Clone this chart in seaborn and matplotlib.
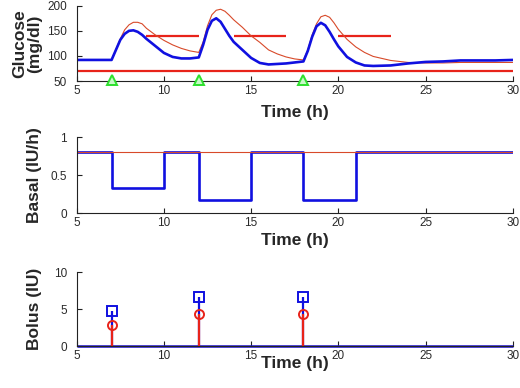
import numpy as np
import matplotlib
matplotlib.use("Agg")
import matplotlib.pyplot as plt
import seaborn as sns

# ---- data ----
t_glu = [5, 7, 7.25, 7.5, 7.75, 8, 8.25, 8.5, 8.75, 9, 9.5, 10, 10.5, 11, 11.5,
         12, 12.25, 12.5, 12.75, 13, 13.25, 13.5, 13.75, 14, 14.5, 15, 15.5, 16,
         16.5, 17, 17.5, 18, 18.25, 18.5, 18.75, 19, 19.25, 19.5, 19.75, 20, 20.5,
         21, 21.5, 22, 23, 24, 25, 26, 27, 28, 29, 30]
glu_blue = [92, 92, 112, 132, 144, 150, 151, 148, 142, 134, 120, 106, 98, 95, 95,
            97, 122, 152, 170, 175, 168, 154, 140, 128, 112, 96, 86, 83,
            84, 85, 87, 89, 110, 138, 159, 166, 161, 148, 133, 119, 98,
            87, 81, 80, 81, 85, 88, 89, 91, 91, 91, 92]
glu_red = [92, 92, 113, 134, 152, 162, 167, 167, 164, 155, 142, 131, 122, 115, 110,
           107, 128, 160, 182, 191, 193, 189, 181, 172, 157, 140, 127, 112,
           104, 98, 94, 92, 112, 142, 164, 178, 181, 177, 166, 153, 133,
           118, 107, 99, 91, 87, 86, 86, 87, 87, 87, 87]
target_start = [9, 14, 20]
target_end = [12, 17, 23]
target_level = 140
hypo_level = 70
meal_times = [7, 12, 18]
meal_marker_level = 52

basal_t = [5, 7, 10, 12, 15, 18, 21, 30]
basal_blue = [0.8, 0.33, 0.8, 0.17, 0.8, 0.17, 0.8, 0.8]
basal_red = [0.8, 0.8, 0.8, 0.8, 0.8, 0.8, 0.8, 0.8]

bolus_t = [7, 12, 18]
bolus_blue = [4.7, 6.7, 6.7]
bolus_red = [2.9, 4.4, 4.4]

BLUE = "#1010e0"
RED = "#e8231a"
RED_THIN = "#d84a2a"
GREEN = "#2ee02e"

sns.set_style("ticks")
plt.rcParams["font.family"] = ["Liberation Sans", "DejaVu Sans"]

fig = plt.figure(figsize=(5.2, 3.88), dpi=100)
left, width = 0.1475, 0.8385
ax1 = fig.add_axes([left, 0.7912, width, 0.194])
ax2 = fig.add_axes([left, 0.4503, width, 0.1959])
ax3 = fig.add_axes([left, 0.1082, width, 0.19])

# glucose
ax1.hlines(hypo_level, 5, 30, color=RED, lw=1.6)
ax1.hlines([target_level] * 3, target_start, target_end, color=RED, lw=1.6)
sns.lineplot(x=t_glu, y=glu_red, ax=ax1, color=RED_THIN, lw=0.8, sort=False)
sns.lineplot(x=t_glu, y=glu_blue, ax=ax1, color=BLUE, lw=1.9, sort=False)
ax1.plot(meal_times, [meal_marker_level] * 3, ls="none", marker="^", ms=7,
         mfc="#c8f8c8", mec=GREEN, mew=1.4, clip_on=False, zorder=5)
ax1.set_ylim(50, 200)
ax1.set_yticks([50, 100, 150, 200])
ax1.set_ylabel("Glucose\n(mg/dl)", linespacing=1.0)

# basal
sns.lineplot(x=basal_t, y=basal_blue, ax=ax2, color=BLUE, lw=1.9,
             drawstyle="steps-post", sort=False)
sns.lineplot(x=basal_t, y=basal_red, ax=ax2, color=RED_THIN, lw=0.8, sort=False)
ax2.set_ylim(0, 1)
ax2.set_yticks([0, 0.5, 1])
ax2.set_yticklabels(["0", "0.5", "1"])
ax2.set_ylabel("Basal (IU/h)")

# bolus
ax3.hlines(0, 5, 30, color=BLUE, lw=1.8, clip_on=False)
ax3.hlines(0, 5, 30, color=RED_THIN, lw=0.8, clip_on=False)
ax3.vlines(bolus_t, 0, bolus_blue, color=BLUE, lw=1.6)
ax3.vlines(bolus_t, 0, bolus_red, color=RED, lw=1.6)
ax3.plot(bolus_t, bolus_blue, ls="none", marker="s", ms=7, mfc="none",
         mec=BLUE, mew=1.4)
ax3.plot(bolus_t, bolus_red, ls="none", marker="o", ms=6.5, mfc="none",
         mec=RED, mew=1.4)
ax3.set_ylim(0, 10)
ax3.set_yticks([0, 5, 10])
ax3.set_ylabel("Bolus (IU)")

xlab_y = [-0.319, -0.259, -0.136]
for ax, ly in zip([ax1, ax2, ax3], xlab_y):
    ax.set_xlim(5, 30)
    ax.set_xticks([5, 10, 15, 20, 25, 30])
    sns.despine(ax=ax)
    for s in ["left", "bottom"]:
        ax.spines[s].set_linewidth(0.8)
        ax.spines[s].set_color("#222222")
    ax.tick_params(axis="both", direction="in", length=3.5, width=0.8,
                   labelsize=8.5, labelcolor="#2a2a2a", color="#222222")
    ax.tick_params(axis="y", pad=7)
    ax.tick_params(axis="x", pad=3)
    ax.set_xlabel("Time (h)", fontsize=12.5, fontweight="bold", va="top")
    ax.xaxis.set_label_coords(0.5, ly)
    ax.yaxis.label.set_fontsize(12.5)
    ax.yaxis.label.set_fontweight("bold")
    ax.yaxis.set_label_coords(-0.08, 0.5)

fig.savefig("out.png", dpi=100)
